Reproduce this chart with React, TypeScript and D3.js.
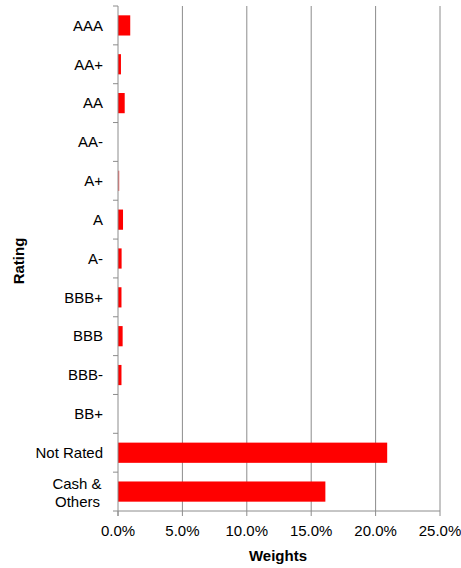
import React from "react";
import * as d3 from "d3";

const categories = ["AAA", "AA+", "AA", "AA-", "A+", "A", "A-", "BBB+", "BBB", "BBB-", "BB+", "Not Rated", "Cash & Others"];
const weights = [0.95, 0.23, 0.52, 0, 0.1, 0.39, 0.28, 0.27, 0.36, 0.27, 0, 20.9, 16.1];
const xTicks = [0, 5, 10, 15, 20, 25];

const W = 461, H = 568;
const left = 118, right = 440, top = 6, bottom = 511;
const font = "Arial, 'Liberation Sans', sans-serif";
const fs = 15;

export default function App() {
  const x = d3.scaleLinear().domain([0, 25]).range([left, right]);
  const y = d3.scaleBand<string>().domain(categories).range([top, bottom]).paddingInner(0.48).paddingOuter(0.24);
  const step = (bottom - top) / categories.length;
  const boundaries = d3.range(categories.length + 1).map((i) => top + i * step);
  return (
    <svg width={W} height={H} style={{ position: "absolute", left: 0, top: 0, background: "#fff" }} fontFamily={font}>
      {xTicks.slice(1).map((t) => (
        <line key={t} x1={x(t)} x2={x(t)} y1={top} y2={bottom} stroke="#8c8c8c" strokeWidth={1} />
      ))}
      {categories.map((c, i) => (
        <rect key={c} x={left} y={y(c)} width={Math.max(0, x(weights[i]) - left)} height={y.bandwidth()} fill={i === 4 ? "#f07070" : "#ff0000"} />
      ))}
      <line x1={left} x2={left} y1={top} y2={bottom + 5} stroke="#8c8c8c" />
      <line x1={left} x2={right} y1={bottom} y2={bottom} stroke="#8c8c8c" />
      {boundaries.map((b, i) => (
        <line key={i} x1={left - 5} x2={left} y1={b} y2={b} stroke="#8c8c8c" />
      ))}
      {xTicks.map((t) => (
        <g key={t}>
          <line x1={x(t)} x2={x(t)} y1={bottom} y2={bottom + 5} stroke="#8c8c8c" />
          <text x={x(t)} y={536} textAnchor="middle" fontSize={fs} fill="#000">{t.toFixed(1) + "%"}</text>
        </g>
      ))}
      {categories.map((c) => {
        const cy = (y(c) as number) + y.bandwidth() / 2;
        if (c === "Cash & Others") {
          return (
            <text key={c} textAnchor="middle" fontSize={fs} fill="#000">
              <tspan x={77} y={cy - 3}>Cash &amp;</tspan>
              <tspan x={77.5} y={cy + 15}>Others</tspan>
            </text>
          );
        }
        return (
          <text key={c} x={103} y={cy} dy="0.35em" textAnchor="end" fontSize={fs} fill="#000">{c}</text>
        );
      })}
      <text x={278} y={561} textAnchor="middle" fontSize={fs} fontWeight="bold">Weights</text>
      <text transform={`translate(24,261) rotate(-90)`} textAnchor="middle" fontSize={fs} fontWeight="bold">Rating</text>
    </svg>
  );
}
